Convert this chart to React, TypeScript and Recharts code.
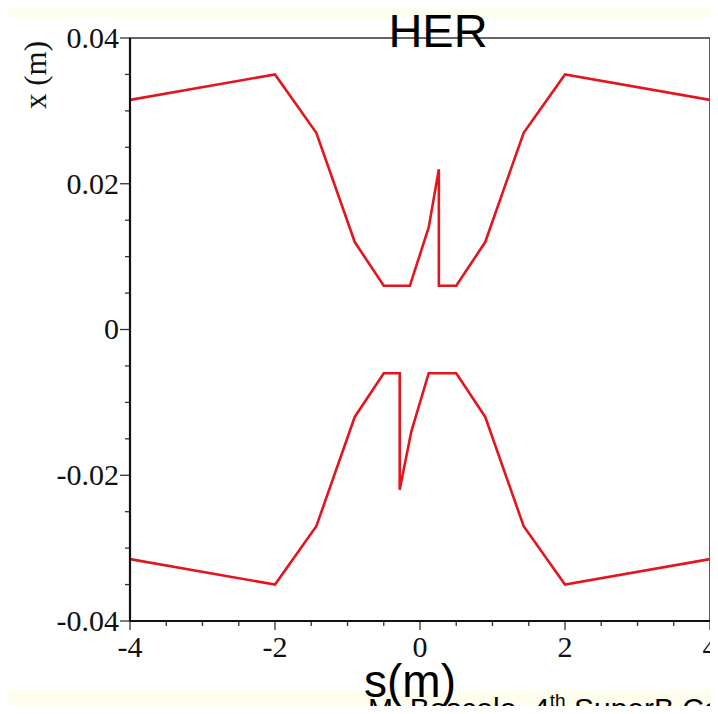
import React from "react";
import { LineChart, Line, XAxis, YAxis, ReferenceArea } from "recharts";

const upperCurve = [
  { s: -4, x: 0.0315 },
  { s: -2, x: 0.035 },
  { s: -1.43, x: 0.027 },
  { s: -0.9, x: 0.012 },
  { s: -0.5, x: 0.006 },
  { s: -0.14, x: 0.006 },
  { s: 0.12, x: 0.014 },
  { s: 0.26, x: 0.022 },
  { s: 0.26, x: 0.006 },
  { s: 0.5, x: 0.006 },
  { s: 0.9, x: 0.012 },
  { s: 1.43, x: 0.027 },
  { s: 2, x: 0.035 },
  { s: 4, x: 0.0315 },
];

const lowerCurve = [
  { s: -4, x: -0.0315 },
  { s: -2, x: -0.035 },
  { s: -1.43, x: -0.027 },
  { s: -0.9, x: -0.012 },
  { s: -0.5, x: -0.006 },
  { s: -0.28, x: -0.006 },
  { s: -0.28, x: -0.022 },
  { s: -0.12, x: -0.014 },
  { s: 0.12, x: -0.006 },
  { s: 0.5, x: -0.006 },
  { s: 0.9, x: -0.012 },
  { s: 1.43, x: -0.027 },
  { s: 2, x: -0.035 },
  { s: 4, x: -0.0315 },
];

const xTicks = [-4, -3.5, -3, -2.5, -2, -1.5, -1, -0.5, 0, 0.5, 1, 1.5, 2, 2.5, 3, 3.5, 4];
const xMajor = [-4, -2, 0, 2, 4];
const yTicks = [
  -0.04, -0.035, -0.03, -0.025, -0.02, -0.015, -0.01, -0.005, 0,
  0.005, 0.01, 0.015, 0.02, 0.025, 0.03, 0.035, 0.04,
];
const yMajor = [-0.04, -0.02, 0, 0.02, 0.04];
const yMajorLabels = ["-0.04", "-0.02", "0", "0.02", "0.04"];

const titleText = "HER";
const xLabel = "s(m)";
const yLabel = "x (m)";

const serif = "'Liberation Serif', 'DejaVu Serif', serif";
const sans = "'Liberation Sans', Arial, sans-serif";

const isMajor = (v: number, list: number[]) => list.some((m) => Math.abs(m - v) < 1e-9);

const XTick = (props: any) => {
  const { x, y, payload } = props;
  const v = payload.value;
  const major = isMajor(v, xMajor);
  return (
    <g>
      <line x1={x} x2={x} y1={y} y2={y + (major ? 9 : 5)} stroke="#333" strokeWidth={1.3} />
      {major && (
        <text x={x} y={y + 36} textAnchor="middle" fontFamily={serif} fontSize={30} fill="#111">
          {v < 0 ? "-" + Math.abs(v) : String(v)}
        </text>
      )}
    </g>
  );
};

const YTick = (props: any) => {
  const { x, y, payload } = props;
  const v = payload.value;
  const idx = yMajor.findIndex((m) => Math.abs(m - v) < 1e-9);
  const major = idx >= 0;
  return (
    <g>
      <line x1={x - (major ? 10 : 5)} x2={x} y1={y} y2={y} stroke="#333" strokeWidth={1.3} />
      {major && (
        <text x={x - 11} y={y} dy="0.33em" textAnchor="end" fontFamily={serif} fontSize={30} fill="#111">
          {yMajorLabels[idx]}
        </text>
      )}
    </g>
  );
};

export default function App() {
  return (
    <div
      style={{
        position: "relative",
        width: 718,
        height: 714,
        margin: -8,
        background: "#fefeee",
        overflow: "hidden",
      }}
    >
      <div
        style={{
          position: "absolute",
          left: 7,
          top: 18,
          width: 711,
          height: 672,
          background: "#ffffff",
        }}
      />
      <div style={{ position: "absolute", left: 0, top: 0 }}>
        <LineChart width={718} height={714} margin={{ top: 38, right: 8, left: 0, bottom: 0 }}>
          <XAxis
            dataKey="s"
            type="number"
            domain={[-4, 4]}
            ticks={xTicks}
            interval={0}
            allowDataOverflow
            axisLine={false}
            tickLine={false}
            tickSize={0}
            tickMargin={0}
            height={93}
            tick={<XTick />}
          />
          <YAxis
            dataKey="x"
            type="number"
            domain={[-0.04, 0.04]}
            ticks={yTicks}
            interval={0}
            allowDataOverflow
            axisLine={false}
            tickLine={false}
            tickSize={0}
            tickMargin={0}
            width={130}
            tick={<YTick />}
          />
          <ReferenceArea
            x1={-4}
            x2={4}
            y1={-0.04}
            y2={0.04}
            fill="none"
            fillOpacity={0}
            stroke="#333"
            strokeWidth={1.6}
          />
          <Line
            data={upperCurve}
            dataKey="x"
            type="linear"
            stroke="#e3161e"
            strokeWidth={2.6}
            dot={false}
            isAnimationActive={false}
          />
          <Line
            data={lowerCurve}
            dataKey="x"
            type="linear"
            stroke="#e3161e"
            strokeWidth={2.6}
            dot={false}
            isAnimationActive={false}
          />
        </LineChart>
      </div>
      <svg
        width={718}
        height={714}
        style={{ position: "absolute", left: 0, top: 0, pointerEvents: "none" }}
      >
        <line x1={130} y1={38} x2={130} y2={621} stroke="#111" strokeWidth={2.2} />
        <line x1={130} y1={621} x2={711} y2={621} stroke="#111" strokeWidth={2.2} />
        <text x={438} y={47} textAnchor="middle" fontFamily={sans} fontSize={47} fill="#000">
          {titleText}
        </text>
        <text
          transform="translate(46,75) rotate(-90)"
          textAnchor="middle"
          fontFamily={serif}
          fontSize={31}
          fill="#111"
        >
          {yLabel}
        </text>
        <text x={364} y={697} fontFamily={sans} fontSize={46} fill="#000">
          {xLabel}
        </text>
        <text x={368} y={719} fontFamily={sans} fontSize={30} fill="#000">
          M. Boscolo, 4
          <tspan fontSize={19} dy={-12}>th</tspan>
          <tspan dy={12}> SuperB Collaboration Meeting</tspan>
        </text>
      </svg>
    </div>
  );
}
